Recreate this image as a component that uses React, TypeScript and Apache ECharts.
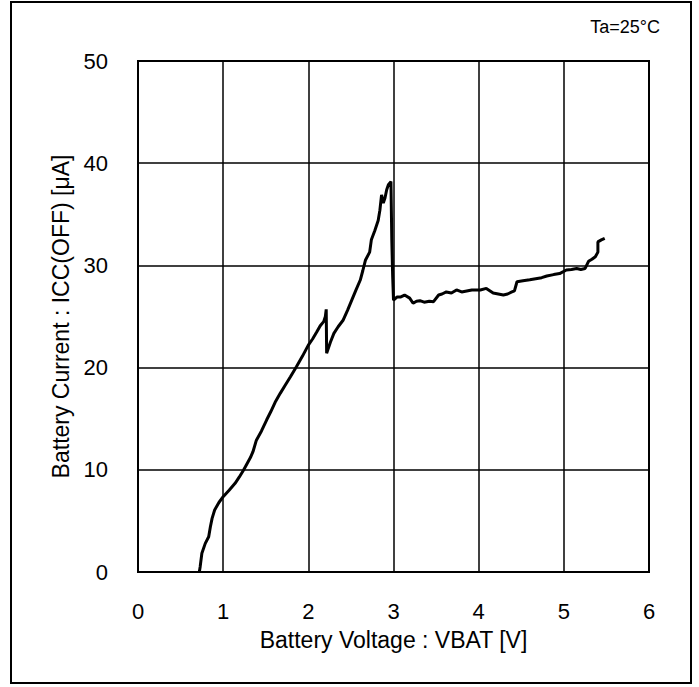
import React, { useEffect, useRef } from "react";
import * as echarts from "echarts";

const xTicks = [0, 1, 2, 3, 4, 5, 6];
const yTicks = [0, 10, 20, 30, 40, 50];
const voltage = [
  0.72, 0.73, 0.75, 0.79, 0.83, 0.85, 0.87, 0.9, 0.95, 1.0, 1.07, 1.14, 1.19, 1.24, 1.28, 1.32, 1.35, 1.39,
  1.45, 1.51, 1.56, 1.61, 1.67, 1.73, 1.79, 1.86, 1.93, 2.0, 2.05, 2.1, 2.14, 2.18, 2.2, 2.21, 2.215,
  2.26, 2.3, 2.35, 2.41, 2.46, 2.51, 2.56, 2.61, 2.64, 2.67, 2.72, 2.74, 2.78, 2.82, 2.84, 2.86, 2.88, 2.9,
  2.92, 2.94, 2.97, 2.98, 2.99, 3.0,
  3.04, 3.08, 3.13, 3.19, 3.23, 3.27, 3.31, 3.36, 3.42, 3.47, 3.53, 3.57, 3.62, 3.68, 3.74, 3.8, 3.86, 3.92,
  4.02, 4.09, 4.17, 4.23, 4.29, 4.34, 4.39, 4.42, 4.45, 4.52, 4.6, 4.67, 4.74, 4.8, 4.88, 4.95, 5.03, 5.09,
  5.15, 5.2, 5.25, 5.29, 5.33, 5.37, 5.4, 5.4, 5.44, 5.48,
];
const current = [
  0, 0.52, 1.83, 2.8, 3.45, 4.43, 5.25, 6.07, 6.8, 7.37, 8.0, 8.68, 9.3, 9.98, 10.6, 11.2, 11.77, 12.9,
  13.8, 14.87, 15.7, 16.6, 17.48, 18.3, 19.1, 20.09, 21.1, 22.2, 22.8, 23.5, 24.1, 24.5, 25.0, 25.7, 21.4,
  22.5, 23.35, 24.0, 24.66, 25.6, 26.6, 27.6, 28.57, 29.5, 30.5, 31.3, 32.5, 33.4, 34.4, 35.4, 36.9, 36.1, 36.6,
  37.4, 37.9, 38.2, 32.5, 29.0, 26.6,
  26.9, 26.9, 27.1, 26.8, 26.3, 26.5, 26.55, 26.4, 26.5, 26.45, 27.1, 27.2, 27.4, 27.3, 27.6, 27.4, 27.5, 27.6,
  27.6, 27.75, 27.3, 27.2, 27.1, 27.2, 27.4, 27.5, 28.4, 28.5, 28.6, 28.7, 28.8, 28.96, 29.1, 29.2, 29.55, 29.6,
  29.7, 29.6, 29.7, 30.4, 30.6, 30.85, 31.3, 32.3, 32.5, 32.65,
];

const FONT = "'Liberation Sans', Arial, sans-serif";

export default function App() {
  const ref = useRef<HTMLDivElement>(null);
  useEffect(() => {
    if (!ref.current) return;
    const chart = echarts.init(ref.current, null, { renderer: "svg" });
    const data = voltage.map((v, i) => [v, current[i]]);
    chart.setOption({
      animation: false,
      backgroundColor: "#ffffff",
      textStyle: { fontFamily: FONT },
      grid: {
        left: 138,
        top: 61,
        right: 50,
        bottom: 115,
        show: true,
        borderColor: "#000",
        borderWidth: 2,
        containLabel: false,
      },
      xAxis: {
        type: "value",
        min: xTicks[0],
        max: xTicks[xTicks.length - 1],
        interval: 1,
        name: "Battery Voltage : VBAT [V]",
        nameLocation: "middle",
        nameGap: 56,
        nameTextStyle: { color: "#000", fontSize: 23, fontFamily: FONT },
        axisLine: { show: true, lineStyle: { color: "#000", width: 2 } },
        axisTick: { show: false },
        axisLabel: { color: "#000", fontSize: 22, margin: 28, fontFamily: FONT },
        splitLine: { show: true, lineStyle: { color: "#000", width: 1.5 } },
      },
      yAxis: {
        type: "value",
        min: yTicks[0],
        max: yTicks[yTicks.length - 1],
        interval: 10,
        name: "Battery Current : ICC(OFF) [μA]",
        nameLocation: "middle",
        nameGap: 65,
        nameTextStyle: { color: "#000", fontSize: 23, fontFamily: FONT },
        axisLine: { show: true, lineStyle: { color: "#000", width: 2 } },
        axisTick: { show: false },
        axisLabel: { color: "#000", fontSize: 22, margin: 30, fontFamily: FONT },
        splitLine: { show: true, lineStyle: { color: "#000", width: 1.5 } },
      },
      graphic: [
        {
          type: "rect",
          shape: { x: 11, y: 2, width: 680, height: 681 },
          style: { fill: "none", stroke: "#000", lineWidth: 2 },
          silent: true,
        },
        {
          type: "text",
          x: 660,
          y: 27,
          style: {
            text: "Ta=25°C",
            fill: "#000",
            fontSize: 18,
            fontFamily: FONT,
            textAlign: "right",
            textVerticalAlign: "middle",
          },
        },
      ],
      series: [
        {
          type: "line",
          data,
          showSymbol: false,
          symbol: "none",
          lineStyle: { color: "#000", width: 3 },
          z: 5,
        },
      ],
    });
    return () => chart.dispose();
  }, []);
  return (
    <div
      ref={ref}
      style={{ position: "fixed", left: 0, top: 0, width: 699, height: 687, background: "#fff" }}
    />
  );
}
